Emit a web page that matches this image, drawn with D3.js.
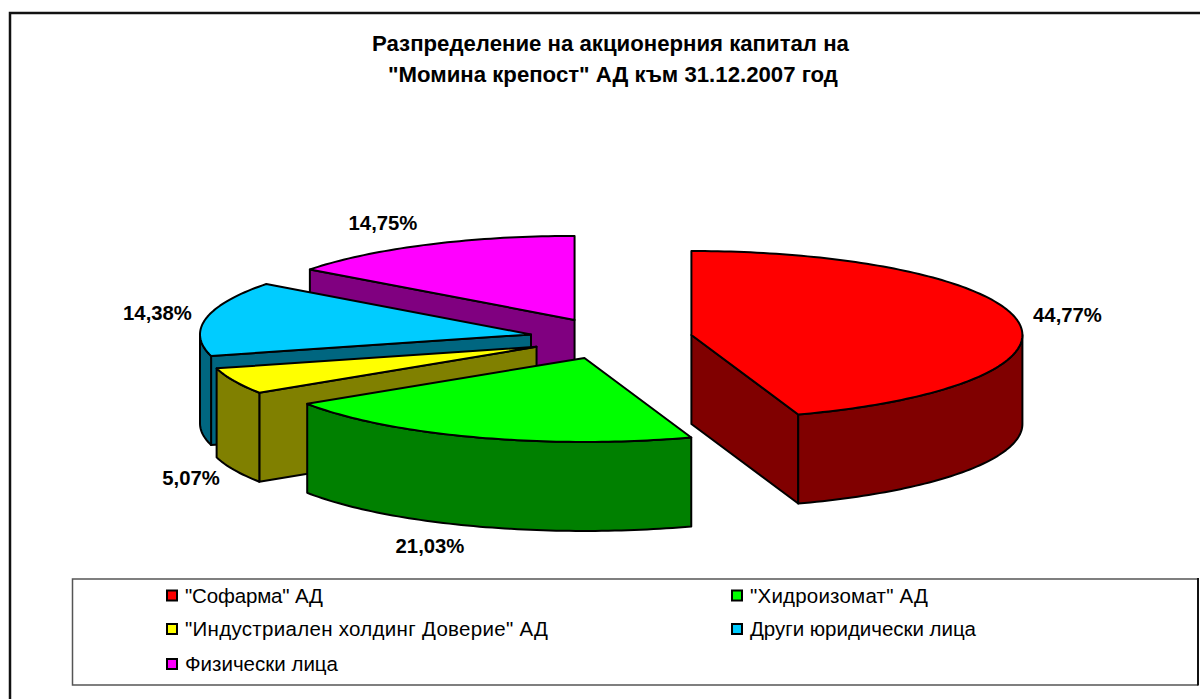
<!DOCTYPE html>
<html>
<head>
<meta charset="utf-8">
<style>
  html, body { margin: 0; padding: 0; background: #fff; overflow: hidden; }
  svg { display: block; }
  text { font-family: "Liberation Sans", Arial, sans-serif; fill: #000; }
  .title { font-size: 22.2px; font-weight: bold; }
  .pct { font-size: 20.3px; font-weight: bold; text-anchor: middle; }
  .leg { font-size: 20.5px; }
</style>
</head>
<body>
<svg width="1200" height="699"></svg>
<script src="https://d3js.org/d3.v7.min.js"></script>
<script>
var categories = ['"Софарма" АД', '"Хидроизомат" АД', '"Индустриален холдинг Доверие" АД', 'Други юридически лица', 'Физически лица'];
var values = [44.77, 21.03, 5.07, 14.38, 14.75];
var valueLabels = ["44,77%", "21,03%", "5,07%", "14,38%", "14,75%"];
var colors = ["#ff0000", "#00ff00", "#ffff00", "#00ccff", "#ff00ff"];
var titleLines = ['Разпределение на акционерния капитал на', '"Момина крепост" АД към 31.12.2007 год'];

var svg = d3.select("svg");

// pie geometry
var cx = 611.0, cy = 338.4, rx = 331, ry = 84, depth = 89, explode = 81.5;

var pie = d3.pie().sort(null).value(function(d) { return d; });
var arcs = pie(values);

// plan view (-1..1) to screen
var px = d3.scaleLinear().domain([-1, 1]).range([-rx, rx]);
var py = d3.scaleLinear().domain([-1, 1]).range([ry, -ry]);
var line = d3.line();

function dark(c) {
  var r = d3.rgb(c);
  return d3.rgb(r.r / 2, r.g / 2, r.b / 2).formatHex();
}

function rimPoints(a0, a1, ox, oy, dy) {
  var n = Math.max(2, Math.ceil((a1 - a0) / 0.02));
  return d3.range(n + 1).map(function(i) {
    var a = a0 + (a1 - a0) * i / n;
    return [ox + px(Math.sin(a)), oy + py(Math.cos(a)) + dy];
  });
}

// back to front: the big red slice never overlaps, the rest stack up toward green
var order = [4, 3, 2, 1, 0];
var pieG = svg.append("g").attr("stroke", "#000").attr("stroke-width", 2).attr("stroke-linejoin", "round");

order.forEach(function(i) {
  var d = arcs[i];
  var mid = (d.startAngle + d.endAngle) / 2;
  var ox = cx + px(Math.sin(mid) * explode / rx);
  var oy = cy + py(Math.cos(mid) * explode / rx);
  var side = dark(colors[i]);

  // flat cut faces, only when they look toward the viewer
  [d.startAngle, d.endAngle].forEach(function(a, k) {
    var normal = k == 0 ? a - Math.PI / 2 : a + Math.PI / 2;
    if (Math.cos(normal) < -1e-6) {
      var ex = ox + px(Math.sin(a)), ey = oy + py(Math.cos(a));
      pieG.append("path").attr("fill", side).attr("d", line([[ox, oy], [ex, ey], [ex, ey + depth], [ox, oy + depth]]) + "Z");
    }
  });

  // outer wall on the front half of the rim
  var r0 = Math.max(d.startAngle, Math.PI / 2), r1 = Math.min(d.endAngle, Math.PI * 1.5);
  if (r1 > r0) {
    var top = rimPoints(r0, r1, ox, oy, 0);
    var bottom = rimPoints(r0, r1, ox, oy, depth).reverse();
    pieG.append("path").attr("fill", side).attr("d", line(top.concat(bottom)) + "Z");
  }

  // top face
  pieG.append("path").attr("fill", colors[i])
    .attr("d", line([[ox, oy]].concat(rimPoints(d.startAngle, d.endAngle, ox, oy, 0))) + "Z");
});

// frame: only top and left fall inside the picture
svg.append("path").attr("d", "M10,700V13H1200")
  .attr("fill", "none").attr("stroke", "#111").attr("stroke-width", 2.5);

// title
var titleX = [372, 388];
titleLines.forEach(function(t, i) {
  svg.append("text").attr("class", "title").attr("x", titleX[i]).attr("y", 51 + i * 30.5).text(t);
});

// percent labels
var labelX = [1067.5, 430, 191, 157.5, 383];
var labelY = [322, 553, 485, 320, 230];
valueLabels.forEach(function(t, i) {
  svg.append("text").attr("class", "pct").attr("x", labelX[i]).attr("y", labelY[i]).text(t);
});

// legend
svg.append("path").attr("d", "M1198,579H72.5V685H1198").attr("fill", "none").attr("stroke", "#555").attr("stroke-width", 1.5);
svg.append("path").attr("d", "M1198,578V685.5").attr("fill", "none").attr("stroke", "#111").attr("stroke-width", 2);

var legendX = [172, 737, 172, 737, 172];
var legendY = [595.5, 595.5, 629, 629, 664];
var legendW = [138, 178, 363, 226, 153];
categories.forEach(function(c, i) {
  svg.append("rect").attr("x", legendX[i] - 5).attr("y", legendY[i] - 5).attr("width", 10).attr("height", 10)
    .attr("fill", colors[i]).attr("stroke", "#000").attr("stroke-width", 2);
  svg.append("text").attr("class", "leg").attr("x", legendX[i] + 13).attr("y", legendY[i] + 7)
    .attr("textLength", legendW[i]).text(c);
});
</script>
</body>
</html>
